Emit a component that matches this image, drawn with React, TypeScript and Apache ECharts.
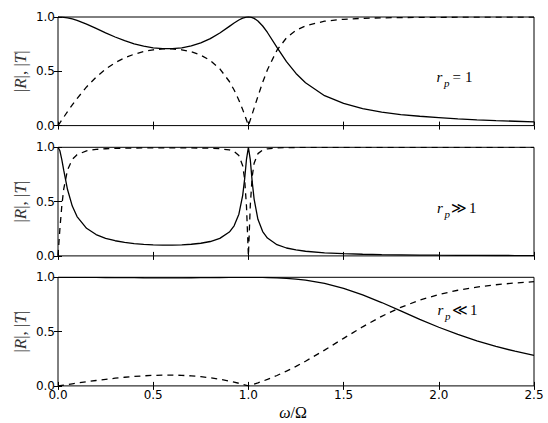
import React, { useEffect, useRef } from "react";
import * as echarts from "echarts";

// omega / Omega sample positions
const omega = [
  0, 0.01, 0.02, 0.03, 0.05, 0.075, 0.1, 0.15, 0.2, 0.25,
  0.3, 0.35, 0.4, 0.45, 0.5, 0.55, 0.6, 0.65, 0.7, 0.75,
  0.8, 0.85, 0.9, 0.925, 0.95, 0.97, 0.98, 0.99, 1.0, 1.01,
  1.02, 1.03, 1.05, 1.075, 1.1, 1.15, 1.2, 1.25, 1.3, 1.4,
  1.5, 1.6, 1.7, 1.8, 1.9, 2.0, 2.1, 2.2, 2.3, 2.4,
  2.5,
];

// Panel 1: r_p = 1
const R1 = [
  1.0, 0.9997, 0.9987, 0.997, 0.9917, 0.9817, 0.9685, 0.9345, 0.8948, 0.8541,
  0.8157, 0.7817, 0.7534, 0.7314, 0.7163, 0.7083, 0.7079, 0.7159, 0.7332, 0.761,
  0.8007, 0.8526, 0.9139, 0.9448, 0.9722, 0.9891, 0.995, 0.9987, 1.0, 0.9986,
  0.9943, 0.987, 0.9631, 0.9171, 0.8574, 0.7201, 0.5891, 0.4802, 0.3943, 0.2753,
  0.204, 0.156, 0.124, 0.101, 0.086, 0.074, 0.062, 0.053, 0.046, 0.04,
  0.034,
];
const T1 = [
  0, 0.026, 0.0519, 0.0776, 0.1285, 0.1902, 0.2491, 0.356, 0.4464, 0.5201,
  0.5785, 0.6237, 0.6576, 0.6819, 0.6978, 0.7059, 0.7063, 0.6982, 0.68, 0.6487,
  0.5991, 0.5225, 0.406, 0.3278, 0.234, 0.1473, 0.1003, 0.0511, 0, 0.0527,
  0.1065, 0.1608, 0.2693, 0.3986, 0.5146, 0.6939, 0.8081, 0.8772, 0.919, 0.9613,
  0.979, 0.9878, 0.9923, 0.9949, 0.9963, 0.9973, 0.9981, 0.9986, 0.9989, 0.9992,
  0.9994,
];

// Panel 2: r_p >> 1
const R2 = [
  1.0, 0.9679, 0.8874, 0.789, 0.611, 0.4586, 0.3624, 0.2539, 0.1966, 0.1621,
  0.1396, 0.1252, 0.1138, 0.1066, 0.1021, 0.0998, 0.0997, 0.102, 0.1072, 0.1165,
  0.1325, 0.1611, 0.2196, 0.277, 0.3837, 0.5574, 0.7042, 0.8902, 1.0, 0.8845,
  0.6826, 0.523, 0.3368, 0.2242, 0.1644, 0.1032, 0.0727, 0.0547, 0.0429, 0.0286,
  0.0205, 0.0154, 0.012, 0.0096, 0.0078, 0.0064, 0.0054, 0.0046, 0.0039, 0.0034,
  0.0029,
];
const T2 = [
  0, 0.2514, 0.4609, 0.6144, 0.7917, 0.8886, 0.932, 0.9672, 0.9805, 0.9868,
  0.9902, 0.9921, 0.9935, 0.9943, 0.9948, 0.995, 0.995, 0.9948, 0.9942, 0.9932,
  0.9912, 0.9869, 0.9756, 0.9609, 0.9234, 0.8302, 0.71, 0.4556, 0, 0.4665,
  0.7308, 0.8523, 0.9416, 0.9745, 0.9864, 0.9947, 0.9974, 0.9985, 0.9991, 0.9996,
  0.9998, 0.9999, 0.9999, 1.0, 1.0, 1.0, 1.0, 1.0, 1.0, 1.0,
  1.0,
];

// Panel 3: r_p << 1
const R3 = [
  1.0, 1.0, 1.0, 1.0, 0.9999, 0.9998, 0.9997, 0.9993, 0.9988, 0.9982,
  0.9975, 0.9968, 0.9962, 0.9957, 0.9953, 0.9951, 0.9951, 0.9953, 0.9957, 0.9964,
  0.9972, 0.9981, 0.999, 0.9994, 0.9997, 0.9999, 0.9999, 1.0, 1.0, 1.0,
  0.9999, 0.9999, 0.9996, 0.9991, 0.9982, 0.9954, 0.9907, 0.9837, 0.9739, 0.9441,
  0.899, 0.839, 0.7677, 0.6905, 0.6132, 0.54, 0.4735, 0.4146, 0.3634, 0.3193,
  0.2814,
];
const T3 = [
  0, 0.0026, 0.0052, 0.0078, 0.013, 0.0194, 0.0257, 0.0381, 0.0498, 0.0607,
  0.0707, 0.0795, 0.087, 0.0928, 0.097, 0.0992, 0.0993, 0.0971, 0.0923, 0.0849,
  0.0746, 0.0611, 0.0444, 0.0347, 0.0241, 0.0149, 0.0101, 0.0051, 0, 0.0053,
  0.0107, 0.0163, 0.028, 0.0434, 0.0599, 0.0959, 0.1359, 0.1797, 0.227, 0.3297,
  0.4379, 0.5441, 0.6408, 0.7233, 0.79, 0.8417, 0.8808, 0.91, 0.9316, 0.9477,
  0.9596,
];

const reflection = [R1, R2, R3];
const transmission = [T1, T2, T3];
const relations = ["=", "\u226B", "\u226A"];
const relationValue = "1";
const xLabel = ["\u03C9", "/\u03A9"];

export default function App() {
  const ref = useRef<HTMLDivElement>(null);

  useEffect(() => {
    if (!ref.current) return;
    const chart = echarts.init(ref.current, null, { renderer: "svg" });

    const tops = [17, 147.3, 277.3];
    const H = 108.6;
    const LEFT = 58;
    const RIGHT = 14;

    const grids = tops.map((t) => ({
      left: LEFT,
      right: RIGHT,
      top: t,
      height: H,
      show: true,
      borderColor: "#000",
      borderWidth: 1,
      backgroundColor: "transparent",
    }));

    const tick = { show: true, inside: true, length: 4, lineStyle: { color: "#000", width: 1 } };
    const labelStyle = {
      fontFamily: "DejaVu Sans",
      fontSize: 12,
      color: "#000",
      formatter: (v: number) => v.toFixed(1),
      showMinLabel: true,
      showMaxLabel: true,
    };

    const xAxes: any[] = [];
    const yAxes: any[] = [];
    tops.forEach((_, i) => {
      xAxes.push({
        type: "value",
        gridIndex: i,
        min: 0,
        max: 2.5,
        interval: 0.5,
        position: "bottom",
        axisLine: { show: false },
        axisTick: tick,
        splitLine: { show: false },
        axisLabel: { ...labelStyle, show: i === 2, margin: 3 },
      });
      xAxes.push({
        type: "value",
        gridIndex: i,
        min: 0,
        max: 2.5,
        interval: 0.5,
        position: "top",
        axisLine: { show: false },
        axisTick: tick,
        splitLine: { show: false },
        axisLabel: { show: false },
      });
      yAxes.push({
        type: "value",
        gridIndex: i,
        min: 0,
        max: 1,
        interval: 0.5,
        position: "left",
        axisLine: { show: false },
        axisTick: tick,
        splitLine: { show: false },
        axisLabel: { ...labelStyle, show: true, margin: 3 },
      });
      yAxes.push({
        type: "value",
        gridIndex: i,
        min: 0,
        max: 1,
        interval: 0.5,
        position: "right",
        axisLine: { show: false },
        axisTick: tick,
        splitLine: { show: false },
        axisLabel: { show: false },
      });
    });

    const series: any[] = [];
    tops.forEach((_, i) => {
      series.push({
        type: "line",
        xAxisIndex: 2 * i,
        yAxisIndex: 2 * i,
        data: omega.map((x, k) => [x, reflection[i][k]]),
        showSymbol: false,
        symbol: "none",
        lineStyle: { color: "#000", width: 1.3, type: "solid" },
        z: 3,
      });
      series.push({
        type: "line",
        xAxisIndex: 2 * i,
        yAxisIndex: 2 * i,
        data: omega.map((x, k) => [x, transmission[i][k]]),
        showSymbol: false,
        symbol: "none",
        lineStyle: { color: "#000", width: 1.3, type: [6, 5] },
        z: 3,
      });
    });

    const serif = "Liberation Serif";
    const graphics: any[] = [];
    // y-axis titles
    tops.forEach((t) => {
      graphics.push({
        type: "text",
        x: 20,
        y: t + H / 2,
        rotation: Math.PI / 2,
        style: {
          text: "{n||}{i|R}{n||}{n|, }{n||}{i|T}{n||}",
          align: "center",
          verticalAlign: "middle",
          fill: "#333",
          rich: {
            n: { fontFamily: serif, fontSize: 17, fill: "#333" },
            i: { fontFamily: serif, fontSize: 17, fontStyle: "italic", fill: "#333" },
          },
        },
      });
    });

    // panel annotations r_p ...
    const baselines = [82.3, 213.3, 315];
    const rX = [436.5, 437, 437.5];
    const relX = [452.5, 450.5, 451.5];
    const oneX = [465, 469, 470];
    baselines.forEach((b, i) => {
      graphics.push({
        type: "text",
        x: rX[i],
        y: b - 5,
        style: { text: "r", fontFamily: serif, fontSize: 15, fontStyle: "italic", fill: "#000", verticalAlign: "middle" },
      });
      graphics.push({
        type: "text",
        x: rX[i] + 7.5,
        y: b + 4.2 - 3.5,
        style: { text: "p", fontFamily: serif, fontSize: 11, fontStyle: "italic", fill: "#000", verticalAlign: "middle" },
      });
      graphics.push({
        type: "text",
        x: relX[i],
        y: b - 5,
        style: {
          text: relations[i],
          fontFamily: i === 0 ? serif : "DejaVu Serif",
          fontSize: 15,
          fill: "#000",
          verticalAlign: "middle",
        },
      });
      graphics.push({
        type: "text",
        x: oneX[i],
        y: b - 5,
        style: { text: relationValue, fontFamily: serif, fontSize: 15, fill: "#000", verticalAlign: "middle" },
      });
    });

    // x-axis title
    graphics.push({
      type: "text",
      x: 293,
      y: 412,
      style: {
        text: "{i|" + xLabel[0] + "}{n|" + xLabel[1] + "}",
        align: "center",
        verticalAlign: "middle",
        rich: {
          i: { fontFamily: serif, fontSize: 16, fontStyle: "italic", fill: "#000" },
          n: { fontFamily: serif, fontSize: 16, fill: "#000" },
        },
      },
    });

    chart.setOption({
      animation: false,
      backgroundColor: "#fff",
      grid: grids,
      xAxis: xAxes,
      yAxis: yAxes,
      series,
      graphic: graphics,
    });

    return () => {
      chart.dispose();
    };
  }, []);

  return (
    <div
      ref={ref}
      style={{ position: "fixed", left: 0, top: 0, width: 548, height: 423 }}
    />
  );
}
